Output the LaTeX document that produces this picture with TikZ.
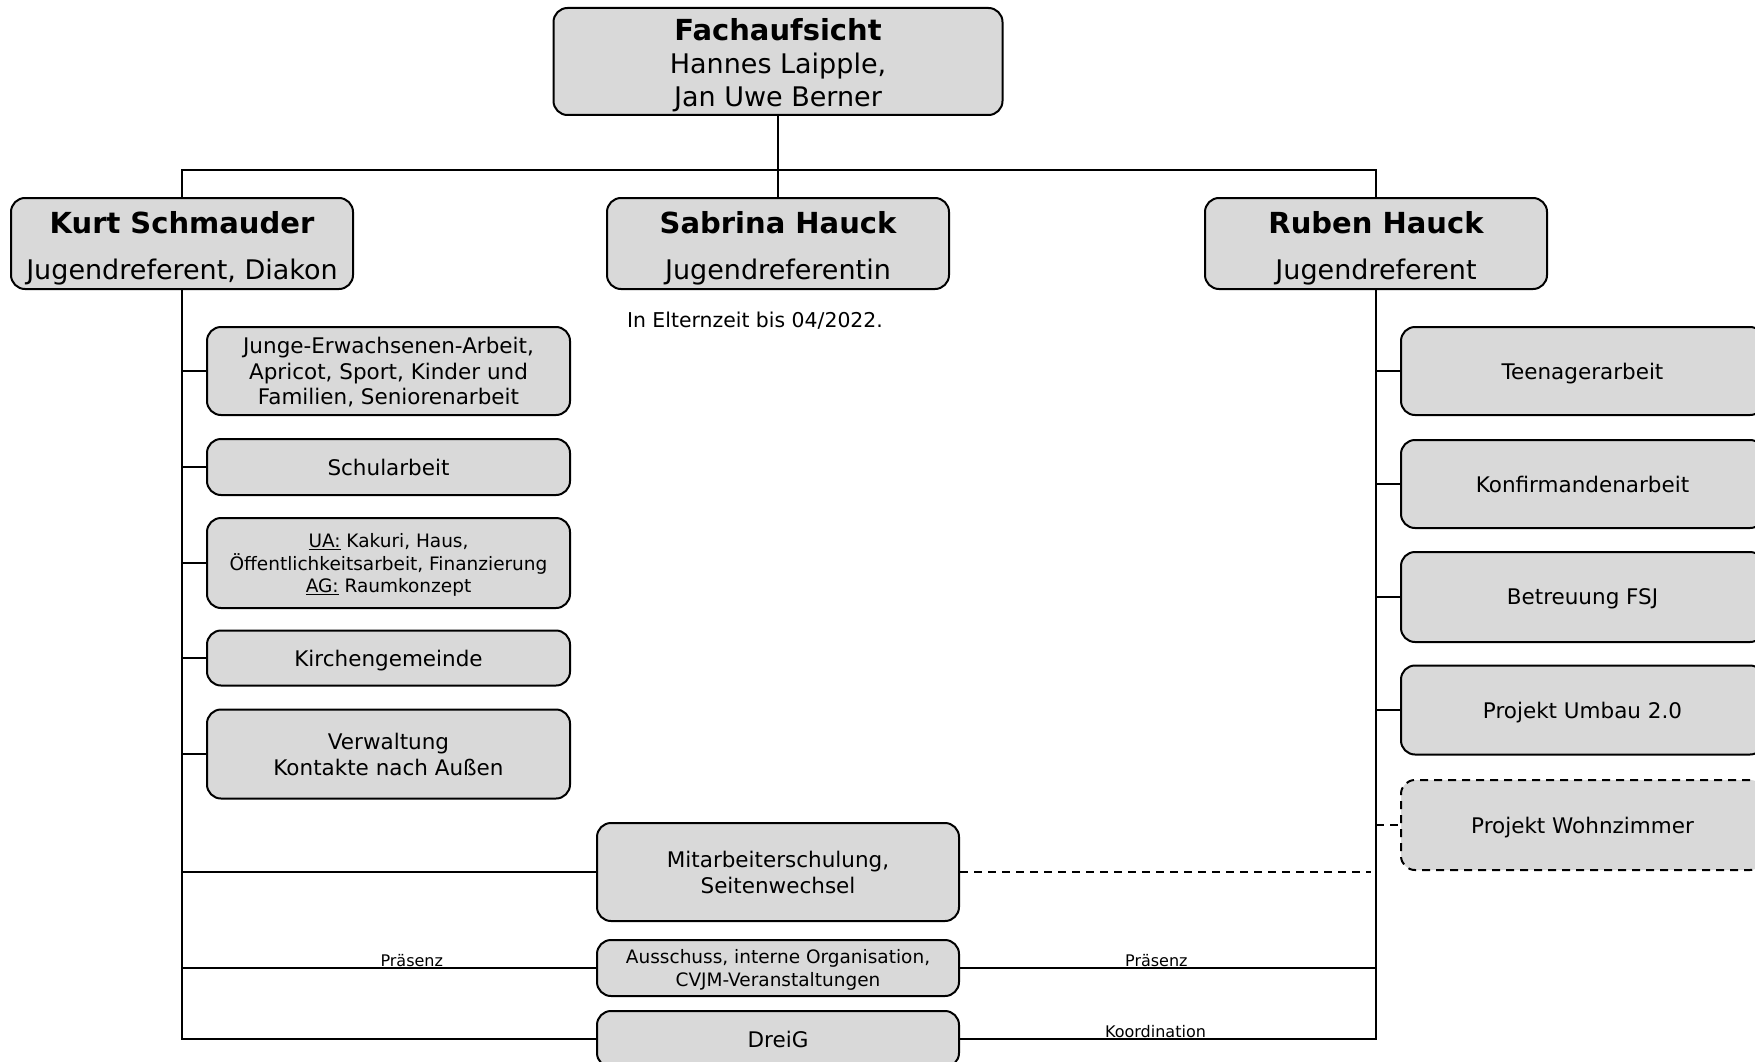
\documentclass[tikz,border=0pt]{standalone}
\usepackage{fontspec}
\setmainfont{DejaVu Sans}
\usetikzlibrary{positioning}
\definecolor{boxgray}{RGB}{217,217,217}
\tikzstyle{Box}=[draw, fill=boxgray, rounded corners=14pt, line width=2pt, align=center, inner sep=0pt, text depth=0pt, font=\fontsize{21.5}{25.7}\selectfont]
\tikzstyle{Head}=[Box, minimum width=342pt, minimum height=91pt, font=\fontsize{27}{33}\selectfont]
\tikzstyle{Task}=[Box, minimum width=363pt, minimum height=88pt]
\tikzstyle{Link}=[line width=2pt]
\tikzstyle{Tag}=[font=\fontsize{16}{19}\selectfont, above, inner sep=0.5pt]
\newcommand{\headline}[1]{{\fontsize{29}{33}\selectfont\bfseries #1}}

\begin{document}
\begin{tikzpicture}[x=1pt, y=-1pt]
			\useasboundingbox (0,0) rectangle (1755,1062);
			% heads
			\node[Head, minimum width=449pt, minimum height=107pt] (fach) at (778,61.5) {\rule{0pt}{24pt}\headline{Fachaufsicht}\\Hannes Laipple,\\Jan Uwe Berner};
			\node[Head] (kurt) at (182,243.5) {\rule{0pt}{25.5pt}\headline{Kurt Schmauder}\\[12.5pt]Jugendreferent, Diakon};
			\node[Head] (sabrina) at (778,243.5) {\rule{0pt}{25.5pt}\headline{Sabrina Hauck}\\[12.5pt]Jugendreferentin};
			\node[Head] (ruben) at (1376,243.5) {\rule{0pt}{25.5pt}\headline{Ruben Hauck}\\[12.5pt]Jugendreferent};
			\node[font=\fontsize{20.4}{24}\selectfont] (eltern) at (755,321) {In Elternzeit bis 04/2022.};
			\coordinate (bus) at (778,170);
			
			% Kurt
			\node[Task] (junge) at (388.5,371) {Junge-Erwachsenen-Arbeit,\\Apricot, Sport, Kinder und\\Familien, Seniorenarbeit};
			\node[Task, minimum height=56pt] (schule) at (388.5,467) {Schularbeit};
			\node[Task, minimum height=90pt, font=\fontsize{18.5}{22.4}\selectfont] (ua) at (388.5,563) {\underline{UA:} Kakuri, Haus,\\Öffentlichkeitsarbeit, Finanzierung\\\underline{AG:} Raumkonzept};
			\node[Task, minimum height=55pt] (kirche) at (388.5,658) {Kirchengemeinde};
			\node[Task, minimum height=89pt] (verw) at (388.5,754) {Verwaltung\\Kontakte nach Außen};
			
			% Ruben
			\node[Task] (teen) at (1582.5,371) {Teenagerarbeit};
			\node[Task] (konf) at (1582.5,484) {Konfirmandenarbeit};
			\node[Task, minimum height=90pt] (fsj) at (1582.5,597) {Betreuung FSJ};
			\node[Task, minimum height=89pt] (umbau) at (1582.5,710) {Projekt Umbau 2.0};
			\node[Task, minimum height=90pt, dash pattern=on 8pt off 6pt] (wohn) at (1582.5,825) {Projekt Wohnzimmer};
			
			% shared
			\node[Task, minimum width=362pt, minimum height=98pt] (mit) at (778,872) {Mitarbeiterschulung,\\Seitenwechsel};
			\node[Task, minimum width=362pt, minimum height=56pt, font=\fontsize{18.5}{22.4}\selectfont] (aus) at (778,968) {Ausschuss, interne Organisation,\\CVJM-Veranstaltungen};
			\node[Task, minimum width=362pt, minimum height=56pt] (dreig) at (778,1039) {DreiG};
			\coordinate (mitend) at (1371,872);
			
			\draw[Link] (fach) -- (sabrina);
			\draw[Link] (kurt.north) -- (kurt.north |- bus) -- (ruben.north |- bus) -- (ruben.north);
			\draw[Link] (kurt.south) -- (kurt.south |- dreig) -- (dreig.west);
			\draw[Link] (ruben.south) -- (ruben.south |- dreig) -- node[Tag, pos=0.53] {Koordination} (dreig.east);
			\foreach \t in {junge, schule, ua, kirche, verw, mit}
				\draw[Link] (kurt.south |- \t.west) -- (\t.west);
			\foreach \t in {teen, konf, fsj, umbau}
				\draw[Link] (ruben.south |- \t.west) -- (\t.west);
			\draw[Link, dash pattern=on 8pt off 6pt] (ruben.south |- wohn.west) -- (wohn.west);
			\draw[Link, dash pattern=on 8pt off 6pt] (mit.east) -- (mitend);
			\draw[Link] (kurt.south |- aus.west) -- node[Tag, pos=0.555] {Präsenz} (aus.west);
			\draw[Link] (aus.east) -- node[Tag, pos=0.472] {Präsenz} (ruben.south |- aus.east);
		\end{tikzpicture}
\end{document}
